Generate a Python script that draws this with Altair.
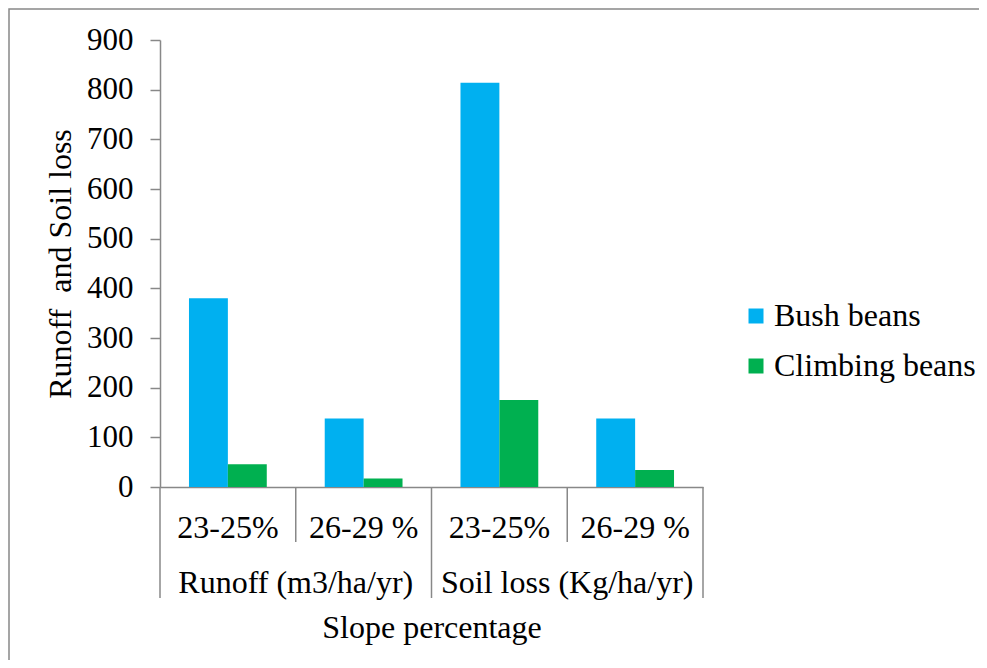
import altair as alt
import pandas as pd

# ---- data ----
groups = ["Runoff (m3/ha/yr)", "Runoff (m3/ha/yr)", "Soil loss (Kg/ha/yr)", "Soil loss (Kg/ha/yr)"]
slopes = ["23-25%", "26-29 %", "23-25%", "26-29 %"]
slope_pos = [0, 1, 0, 1]
bush_beans = [380, 138, 814, 138]
climbing_beans = [46, 17, 175, 34]
series_names = ["Bush beans", "Climbing beans"]
series_colors = ["#00B0F0", "#00B050"]
y_ticks = [0, 100, 200, 300, 400, 500, 600, 700, 800, 900]

FONT = "Liberation Serif"
FS = 32
FS_TICK = 31
GRAY = "#888888"

keys = [f"{g}|{s}" for g, s in zip(groups, slopes)]

rows = []
for k, g, s, b, c in zip(keys, groups, slopes, bush_beans, climbing_beans):
    rows.append({"key": k, "group": g, "slope": s, "series": series_names[0], "value": b})
    rows.append({"key": k, "group": g, "slope": s, "series": series_names[1], "value": c})
df = pd.DataFrame(rows)

cats = pd.DataFrame({"key": keys, "group": groups, "slope": slopes, "pos": slope_pos})
last = pd.DataFrame({"key": [keys[-1]]})
frame = pd.DataFrame({"a": [0]})

x_scale = alt.Scale(domain=keys, paddingInner=0, paddingOuter=0)

border = alt.Chart(frame).mark_rect(fillOpacity=0, stroke=GRAY, strokeWidth=1.5).encode(
    x=alt.value(-151), x2=alt.value(1000), y=alt.value(-31), y2=alt.value(800)
)

bars = alt.Chart(df).mark_bar().encode(
    x=alt.X(
        "key:N",
        scale=x_scale,
        sort=keys,
        axis=alt.Axis(
            labels=False, ticks=False, domainColor=GRAY, domainWidth=1.5,
            title="Slope percentage", titleFont=FONT, titleFontSize=FS,
            titleFontWeight="normal", titleColor="black",
            titleY=150, titleBaseline="alphabetic",
        ),
    ),
    xOffset=alt.XOffset("series:N", scale=alt.Scale(domain=series_names, paddingInner=0, paddingOuter=0.745)),
    y=alt.Y(
        "value:Q",
        scale=alt.Scale(domain=[0, 900], nice=False),
        axis=alt.Axis(
            values=y_ticks, grid=False, tickSize=10, tickColor=GRAY, tickWidth=1.5,
            domainColor=GRAY, domainWidth=1.5, labelFont=FONT, labelFontSize=FS_TICK,
            labelColor="black", labelPadding=17,
            title="Runoff\u00a0 and Soil loss", titleFont=FONT, titleFontSize=FS,
            titleFontWeight="normal", titleColor="black",
            titleX=-90, titleY=223.5, titleBaseline="alphabetic", titleAlign="center",
        ),
    ),
    color=alt.Color(
        "series:N",
        scale=alt.Scale(domain=series_names, range=series_colors),
        legend=alt.Legend(
            title=None, orient="none", legendX=580, legendY=260,
            symbolType="square", symbolSize=225, symbolStrokeWidth=0,
            labelFont=FONT, labelFontSize=FS, labelColor="black", labelLimit=0,
            labelOffset=2, rowPadding=18,
        ),
    ),
)

long_start = alt.Chart(cats).transform_filter("datum.pos == 0").mark_rule(color=GRAY, strokeWidth=1.5).encode(
    x=alt.X("key:N", bandPosition=0), y=alt.value(447), y2=alt.value(558)
)
long_end = alt.Chart(last).mark_rule(color=GRAY, strokeWidth=1.5).encode(
    x=alt.X("key:N", bandPosition=1), y=alt.value(447), y2=alt.value(558)
)
short = alt.Chart(cats).transform_filter("datum.pos == 1").mark_rule(color=GRAY, strokeWidth=1.5).encode(
    x=alt.X("key:N", bandPosition=0), y=alt.value(447), y2=alt.value(502)
)

slope_text = alt.Chart(cats).mark_text(font=FONT, fontSize=FS, baseline="alphabetic", color="black").encode(
    x=alt.X("key:N"), y=alt.value(498), text="slope:N"
)
group_text = alt.Chart(cats).transform_filter("datum.pos == 1").mark_text(
    font=FONT, fontSize=FS, baseline="alphabetic", color="black"
).encode(
    x=alt.X("key:N", bandPosition=0), y=alt.value(553), text="group:N"
)

chart = alt.layer(border, bars, long_start, long_end, short, slope_text, group_text).properties(
    width=543,
    height=447,
    padding={"left": 152, "top": 32, "right": 276, "bottom": 173},
    autosize=alt.AutoSizeParams(type="none"),
).configure(font=FONT).configure_view(stroke=None)

chart.save("out.html", embed_options={"renderer": "svg", "actions": False})
